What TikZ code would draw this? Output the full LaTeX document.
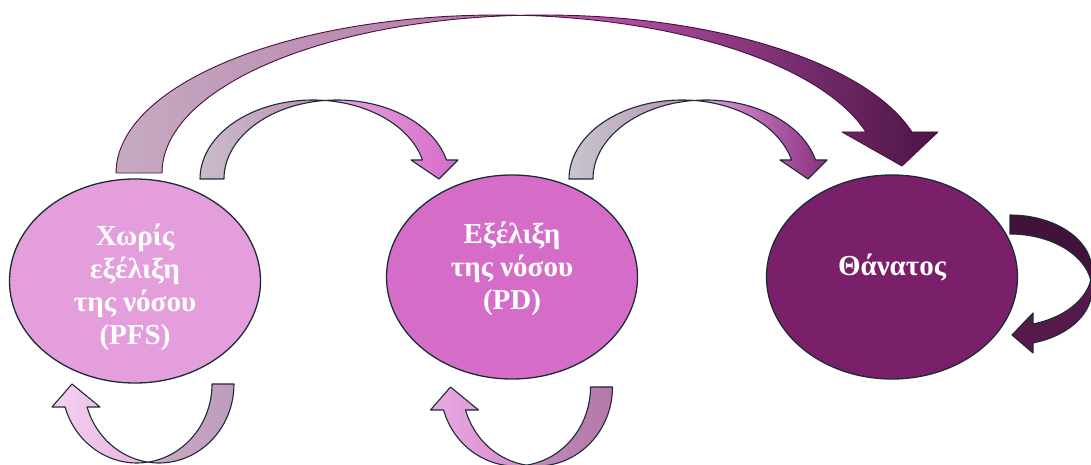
\documentclass[tikz,border=0pt]{standalone}
\usepackage{fontspec}
\setmainfont{Liberation Serif}
\usetikzlibrary{shapes.geometric}

\definecolor{edge}{HTML}{1C2B36}
\definecolor{bigedge}{HTML}{4A0F40}
\definecolor{pfscol}{HTML}{E39EDB}
\definecolor{pdcol}{HTML}{D56DC8}
\definecolor{deathcol}{HTML}{7A206A}
\definecolor{bigbackl}{HTML}{C6AAC2}
\definecolor{bigbackr}{HTML}{B276A4}
\definecolor{bigfrontl}{HTML}{CD60BE}
\definecolor{bigfrontm}{HTML}{72266A}
\definecolor{bigfrontr}{HTML}{4C1444}
\definecolor{loopback}{HTML}{43123A}
\definecolor{loopfront}{HTML}{561A4A}

\begin{document}
\begin{tikzpicture}[x=1pt,y=1pt,
	state/.style={ellipse, draw=edge, line width=1.3pt, inner sep=0pt,
		minimum width=251pt, minimum height=204pt},
	statetext/.style={align=center, text=white, inner sep=0pt,
		font=\fontsize{29}{33}\selectfont\bfseries},
	band/.style={draw=edge, line width=1.1pt, line join=round},
	bigband/.style={draw=bigedge, line width=0.9pt, line join=round}]
	\useasboundingbox (0,0) rectangle (1091,465);
	
	% states
	\node[state, fill=pfscol] (pfs) at (135,184) {};
	\node[state, fill=pdcol] (pd) at (512,188) {};
	\node[state, fill=deathcol] (death) at (892,188) {};
	\node[statetext] (pfstext) at ([yshift=-6pt]pfs.center) {Χωρίς\\εξέλιξη\\της νόσου\\(PFS)};
	\node[statetext] (pdtext) at ([yshift=8pt]pd.center) {Εξέλιξη\\της νόσου\\(PD)};
	\node[statetext] (deathtext) at ([yshift=10pt]death.center) {Θάνατος};
	
	% PFS -> PD and PD -> death
	\foreach \dx/\bl/\br/\fl/\fr in {0/C9BCC9/BE8FB6/E8A6E0/D66CC8, 369/C8C6CE/B98FB2/E6A2DE/8A2E80}
	{
		\begin{scope}[xshift=\dx]
			\definecolor{bl}{HTML}{\bl}\definecolor{br}{HTML}{\br}
			\definecolor{fl}{HTML}{\fl}\definecolor{fr}{HTML}{\fr}
			\draw[band, left color=bl, right color=br] (200,286)
				arc[start angle=180, end angle=83.9, x radius=112.9, y radius=79]
				arc[start angle=96.1, end angle=180, x radius=112.9, y radius=79] -- cycle;
			\draw[band, left color=fl, right color=fr] (324.9,364.55)
				arc[start angle=83.9, end angle=13.92, x radius=112.9, y radius=79]
				-- (411,305) -- (439,286) -- (458,305) -- (446.5,305)
				arc[start angle=13.92, end angle=96.1, x radius=112.9, y radius=79] -- cycle;
		\end{scope}
	}
	
	% PFS -> death
	\draw[bigband, left color=bigbackl, right color=bigbackr] (116,292)
		arc[start angle=180, end angle=86.54, x radius=381.5, y radius=158]
		arc[start angle=93.46, end angle=180, x radius=381.5, y radius=158] -- cycle;
	\draw[bigband, left color=bigfrontl, middle color=bigfrontm, right color=bigfrontr] (520.5,449.71)
		arc[start angle=86.54, end angle=15.04, x radius=381.5, y radius=158]
		-- (842,333) -- (902,299) -- (938,333) -- (911.9,333)
		arc[start angle=15.04, end angle=93.46, x radius=381.5, y radius=158] -- cycle;
	
	% staying in PFS and in PD
	\foreach \dx/\dy/\bl/\br/\fl/\fr in {0/0/C8ABC6/BE9CBB/F3D0EF/E9B4E3, 378.5/-3/C08CB8/B478A9/E8AAE1/D68CCE}
	{
		\begin{scope}[xshift=\dx, yshift=\dy]
			\definecolor{bl}{HTML}{\bl}\definecolor{br}{HTML}{\br}
			\definecolor{fl}{HTML}{\fl}\definecolor{fr}{HTML}{\fr}
			\draw[band, left color=bl, right color=br] (234,81)
				arc[start angle=0, end angle=-98.42, x radius=75.1, y radius=79]
				arc[start angle=-81.58, end angle=0, x radius=75.1, y radius=79] -- cycle;
			\draw[band, left color=fl, right color=fr] (147.9,2.85)
				arc[start angle=-98.42, end angle=-163.07, x radius=75.1, y radius=79]
				-- (100,58) -- (72,81) -- (52,58) -- (65.05,58)
				arc[start angle=-163.07, end angle=-81.58, x radius=75.1, y radius=79] -- cycle;
		\end{scope}
	}
	
	% staying in death
	\draw[band, fill=loopback] (1010,250)
		arc[start angle=90, end angle=-9.84, x radius=82, y radius=55.6]
		arc[start angle=9.84, end angle=90, x radius=82, y radius=55.6] -- cycle;
	\draw[band, fill=loopfront] (1090.79,184.9)
		arc[start angle=-9.84, end angle=-73.71, x radius=82, y radius=55.6]
		-- (1033,152) -- (1012,130) -- (1033,112) -- (1033,122.03)
		arc[start angle=-73.71, end angle=9.84, x radius=82, y radius=55.6] -- cycle;
\end{tikzpicture}
\end{document}
